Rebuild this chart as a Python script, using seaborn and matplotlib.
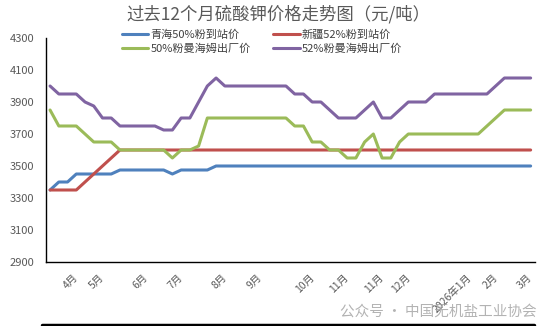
import numpy as np
import pandas as pd
import matplotlib
matplotlib.use("Agg")
import matplotlib.pyplot as plt
from matplotlib.lines import Line2D
import seaborn as sns

# ---- data ----
qinghai50 = [3350, 3400, 3400] + [3450] * 5 + [3475] * 6 + [3450] + [3475] * 4 + [3500] * 37
xinjiang52 = [3350] * 4 + [3400, 3450, 3500, 3550] + [3600] * 48
mannheim50 = ([3850] + [3750] * 3 + [3700] + [3650] * 3 + [3600] * 6 + [3550] + [3600] * 2 +
              [3625] + [3800] * 10 + [3750] * 2 + [3650] * 2 + [3600] * 2 + [3550] * 2 +
              [3650, 3700] + [3550] * 2 + [3650] + [3700] * 9 + [3750, 3800] + [3850] * 4)
mannheim52 = ([4000] + [3950] * 3 + [3900, 3875] + [3800] * 2 + [3750] * 5 + [3725] * 2 +
              [3800] * 2 + [3900, 4000, 4050] + [4000] * 8 + [3950] * 2 + [3900] * 2 +
              [3850] + [3800] * 3 + [3850, 3900] + [3800] * 2 + [3850] + [3900] * 3 +
              [3950] * 7 + [4000] + [4050] * 4)

series_names = ["青海50%粉到站价", "新疆52%粉到站价", "50%粉曼海姆出厂价", "52%粉曼海姆出厂价"]
series_colors = ["#4F81BD", "#C0504D", "#9BBB59", "#8064A2"]

month_ticks = [3, 6, 11, 15, 20, 24, 30, 34, 38, 41, 48, 51, 55]
month_labels = ["4月", "5月", "6月", "7月", "8月", "9月", "10月", "11月", "11月", "12月",
                "2026年1月", "2月", "3月"]

y_ticks = [2900, 3100, 3300, 3500, 3700, 3900, 4100, 4300]

n = len(qinghai50)
frames = []
for name, vals in zip(series_names, [qinghai50, xinjiang52, mannheim50, mannheim52]):
    frames.append(pd.DataFrame({"idx": np.arange(n), "price": vals, "series": name}))
df = pd.concat(frames, ignore_index=True)

# ---- style ----
sns.set_style("white")
plt.rcParams["font.family"] = ["Noto Sans CJK SC", "DejaVu Sans"]
plt.rcParams["axes.unicode_minus"] = False

fig = plt.figure(figsize=(5.54, 3.26), dpi=100)
ax = fig.add_axes([45.7 / 554, 1 - 262 / 326, (535 - 45.7) / 554, (262 - 38) / 326])

sns.lineplot(data=df, x="idx", y="price", hue="series", hue_order=series_names,
             palette=series_colors, linewidth=2.2, ax=ax, legend=False)

ax.set_xlim(-0.5, n - 0.5)
ax.set_ylim(2900, 4300)
ax.set_yticks(y_ticks)
ax.set_yticklabels([str(v) for v in y_ticks], fontsize=8, color="#595959")
ax.tick_params(axis="y", length=0, pad=8)

ax.set_xticks(month_ticks)
ax.set_xticklabels(month_labels, rotation=45, ha="right", va="center",
                   rotation_mode="anchor", fontsize=7.5, color="#595959")
ax.tick_params(axis="x", which="major", length=0, pad=10)
ax.set_xticks(np.arange(-0.5, n, 1.0), minor=True)
ax.tick_params(axis="x", which="minor", direction="in", length=3.5, width=0.8, color="black")

ax.set_xlabel("")
ax.set_ylabel("")
for s in ["top", "right"]:
    ax.spines[s].set_visible(False)
for s in ["left", "bottom"]:
    ax.spines[s].set_color("black")
    ax.spines[s].set_linewidth(1.0)

# title
fig.text(0.5 * (130 + 426) / 554, 1 - 14 / 326, "过去12个月硫酸钾价格走势图（元/吨）",
         ha="center", va="center", fontsize=12.5, color="#595959")

# legend (row-wise order: column-major fill)
order = [0, 2, 1, 3]
handles = [Line2D([0], [0], color=series_colors[i], lw=2.2) for i in order]
labels = [series_names[i] for i in order]
leg = fig.legend(handles, labels, ncol=2, loc="center",
                 bbox_to_anchor=(262 / 554, 1 - 42 / 326), frameon=False,
                 fontsize=8, handlelength=2.4, handletextpad=0.2,
                 columnspacing=2.0, labelspacing=0.3, borderpad=0)
for t in leg.get_texts():
    t.set_color("#404040")

# watermark
fig.text(537 / 554, 1 - 312 / 326, "公众号 · 中国无机盐工业协会", ha="right", va="center",
         fontsize=10.5, color="#a0a0a0", alpha=0.8)

# bottom bar (cropped border at the image bottom)
fig.add_artist(Line2D([42 / 554, 534 / 554], [1 / 326, 1 / 326], color="black", lw=2.5,
                      transform=fig.transFigure))

fig.savefig("out.png", dpi=100)
